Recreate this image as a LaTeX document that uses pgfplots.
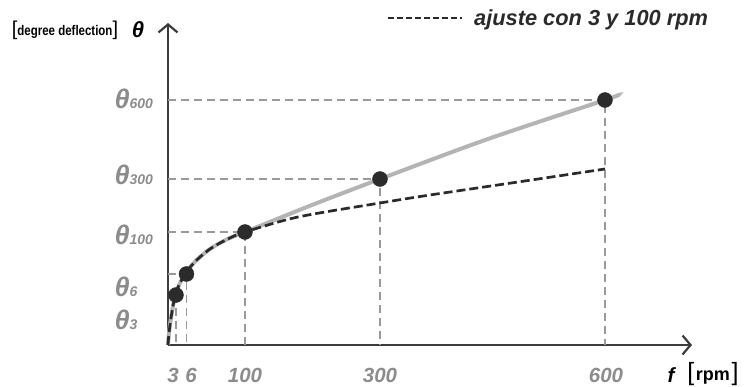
\documentclass[border=0pt]{standalone}
\usepackage{fontspec}
\setmainfont{Liberation Sans}
\usepackage{graphicx}
\usepackage{pgfplots}
\pgfplotsset{compat=1.18}
\usetikzlibrary{arrows.meta}
\definecolor{axisc}{HTML}{3C3C3C}
\definecolor{guidec}{HTML}{9A9A9A}
\definecolor{curvec}{HTML}{B4B4B4}
\definecolor{fitc}{HTML}{2A2A2A}
\definecolor{labc}{HTML}{8C8C8C}
\definecolor{dotc}{HTML}{2B2B2B}
\newcommand{\thl}[1]{{\fontsize{27bp}{27bp}\selectfont\bfseries\itshape θ}{\fontsize{14bp}{14bp}\selectfont\bfseries\itshape #1}}
\newcommand{\tkf}{\fontsize{20.5bp}{20.5bp}\selectfont\bfseries\itshape}
\begin{document}
\begin{tikzpicture}
\useasboundingbox (-168bp,-42bp) rectangle (576bp,345bp);
\begin{axis}[
  x=1bp, y=1bp,
  xmin=0, xmax=524, ymin=0, ymax=322,
  enlargelimits=false,
  axis x line*=bottom, axis y line*=left,
  axis line style={axisc, line width=1.8bp, -{Straight Barb[length=8bp,width=19bp,line width=2.2bp]}},
  xtick=\empty, ytick=\empty,
  clip=false,
  legend cell align=left,
  legend style={at={(0.419,1.0155)}, anchor=west, draw=none, fill=none, inner sep=0pt,
    font=\fontsize{21.8bp}{21.8bp}\selectfont\bfseries\itshape, text=fitc,
    nodes={inner sep=0pt},
    /tikz/every odd column/.append style={column sep=11bp}},
]
% measured curve
\addplot[curvec, line width=4bp, smooth, forget plot] coordinates {
(0,0) (1,12) (3,27) (7,49) (12,62) (18,72) (24,80) (32,88) (42,96) (52,102) (64,108) (77,113)
(144,140) (212,166) (320,206) (437,245) (450,250)};
% guide lines
\addplot[guidec, line width=1.3bp, dash pattern=on 8bp off 5bp, forget plot] coordinates {(0,245) (437,245) (437,0)};
\addplot[guidec, line width=1.3bp, dash pattern=on 8bp off 5bp, forget plot] coordinates {(0,166) (212,166) (212,0)};
\addplot[guidec, line width=1.3bp, dash pattern=on 8bp off 5bp, forget plot] coordinates {(0,113) (77,113) (77,0)};
\addplot[guidec, line width=1.3bp, dash pattern=on 8bp off 5bp, forget plot] coordinates {(0,71) (18.5,71) (18.5,0)};
\addplot[guidec, line width=1.3bp, dash pattern=on 8bp off 5bp, forget plot] coordinates {(8,50) (8,0)};
% fit with 3 and 100 rpm
\addplot[fitc, line width=2.7bp, dash pattern=on 9bp off 4bp, smooth,
  legend image code/.code={\draw[fitc, line width=1.4bp, dash pattern=on 6bp off 3bp] (0bp,0bp) -- (74bp,0bp);}]
 coordinates {
(0,0) (1,12) (3,27) (7,49) (12,62) (18,72) (24,80) (32,88) (42,96) (52,102) (64,108) (77,113)
(130,128) (212,142) (262,150) (350,163) (437,176)};
\addlegendentry{ajuste con 3 y 100 rpm}
% data points
\addplot[only marks, mark=*, mark size=7.5bp, dotc, forget plot] coordinates {
(8,50) (18.5,71) (77,113) (212,166) (437,245)};
% y labels
\node[anchor=west, text=labc] at (axis cs:-57,246) {\thl{600}};
\node[anchor=west, text=labc] at (axis cs:-57,170) {\thl{300}};
\node[anchor=west, text=labc] at (axis cs:-57,110) {\thl{100}};
\node[anchor=west, text=labc] at (axis cs:-57,58) {\thl{6}};
\node[anchor=west, text=labc] at (axis cs:-57,25) {\thl{3}};
% x labels
\node[text=labc, font=\tkf] at (axis cs:5,-30) {3};
\node[text=labc, font=\tkf] at (axis cs:23,-30) {6};
\node[text=labc, font=\tkf] at (axis cs:77,-30) {100};
\node[text=labc, font=\tkf] at (axis cs:212,-30) {300};
\node[text=labc, font=\tkf] at (axis cs:438,-30) {600};
\node[text=black, font=\tkf] at (axis cs:503,-30) {f};
\node[text=black, inner sep=0pt] at (axis cs:545,-29) {{\fontsize{25bp}{25bp}\selectfont[}\,{\fontsize{18bp}{18bp}\selectfont\bfseries rpm}\,{\fontsize{25bp}{25bp}\selectfont]}};
% axis titles
\node[text=black, font=\fontsize{22bp}{22bp}\selectfont\bfseries\itshape] at (axis cs:-30,315) {θ};
\node[text=black, inner sep=0pt] at (axis cs:-103,315) {{\fontsize{20bp}{20bp}\selectfont[}\scalebox{0.82}[1]{\fontsize{14bp}{14bp}\selectfont\bfseries degree deflection}{\fontsize{20bp}{20bp}\selectfont]}};
\end{axis}
\end{tikzpicture}
\end{document}
